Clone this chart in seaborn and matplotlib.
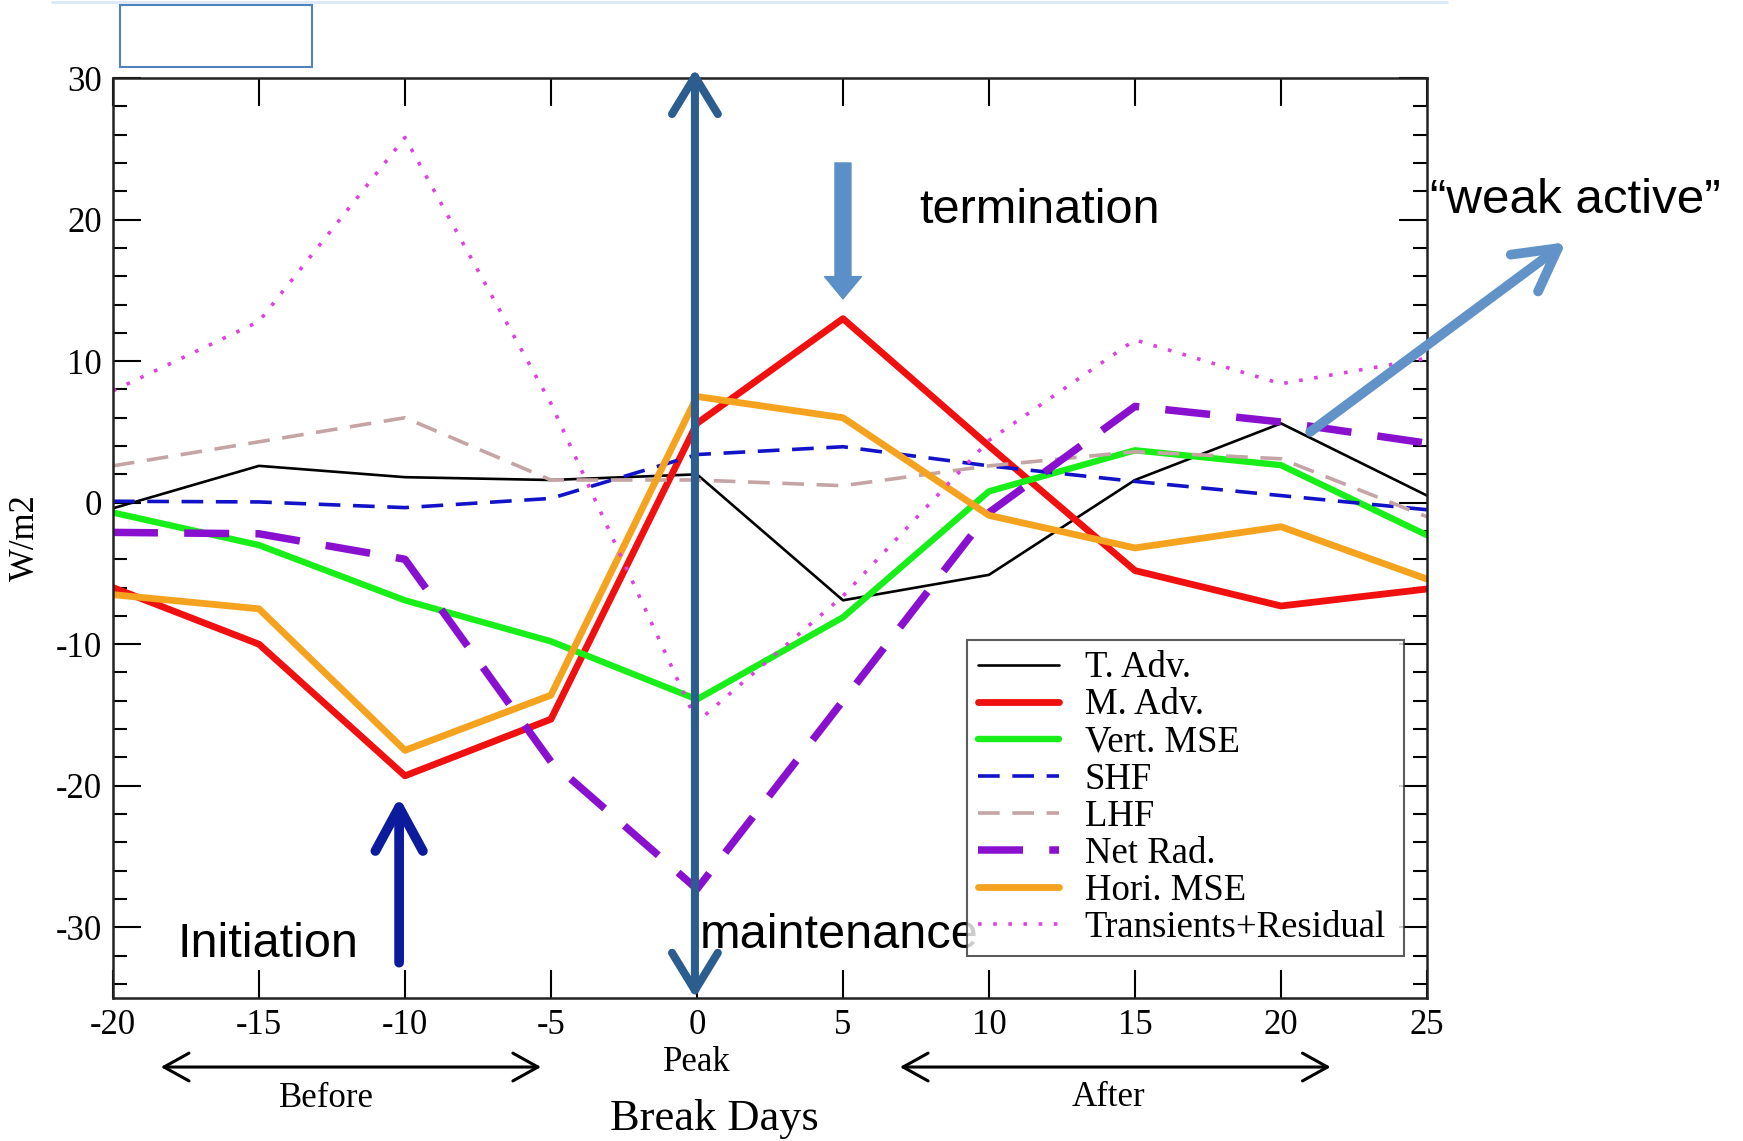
import numpy as np
import matplotlib
matplotlib.use("Agg")
import matplotlib.pyplot as plt
import seaborn as sns
from matplotlib.patches import Rectangle
from matplotlib.lines import Line2D
from matplotlib.ticker import MultipleLocator

# --- data (W/m2 vs break days) ---
days = [-20, -15, -10, -5, 0, 5, 10, 15, 20, 25]
t_adv = [-0.4, 2.6, 1.8, 1.6, 2.0, -6.9, -5.1, 1.6, 5.6, 0.5]
m_adv = [-6.0, -10.0, -19.3, -15.3, 5.6, 13.0, 4.0, -4.8, -7.3, -6.1]
vert_mse = [-0.7, -3.0, -6.9, -9.8, -13.9, -8.1, 0.8, 3.7, 2.65, -2.3]
shf = [0.1, 0.05, -0.35, 0.3, 3.4, 3.95, 2.6, 1.5, 0.5, -0.5]
lhf = [2.6, 4.3, 6.0, 1.6, 1.6, 1.2, 2.6, 3.6, 3.1, -1.0]
net_rad = [-2.1, -2.2, -4.0, -18.3, -27.3, -14.0, -0.7, 6.8, 5.7, 4.2]
hori_mse = [-6.5, -7.5, -17.5, -13.6, 7.5, 6.0, -0.9, -3.2, -1.7, -5.4]
transients = [7.9, 12.8, 25.8, 7.0, -15.5, -6.6, 4.4, 11.5, 8.4, 10.2]

yticks = [-30, -20, -10, 0, 10, 20, 30]

sns.set_style("ticks")
plt.rcParams["font.family"] = ["Liberation Serif", "DejaVu Serif"]
plt.rcParams["axes.unicode_minus"] = False
plt.rcParams["text.color"] = "black"
plt.rcParams["axes.labelcolor"] = "black"
plt.rcParams["xtick.color"] = "black"
plt.rcParams["ytick.color"] = "black"

fig = plt.figure(figsize=(17.43, 11.41), dpi=100)
ax = fig.add_axes([0.0648, 0.1253, 0.7539, 0.8063])

series = [
    ("T. Adv.", t_adv, "black", 1.9, "-"),
    ("M. Adv.", m_adv, "#f01010", 4.9, "-"),
    ("Vert. MSE", vert_mse, "#18ee18", 4.6, "-"),
    ("SHF", shf, "#1212c8", 2.6, (0, (6, 3.5))),
    ("LHF", lhf, "#c4a4a4", 2.6, (0, (6, 3.5))),
    ("Net Rad.", net_rad, "#8a10d0", 5.4, (0, (6, 3.5))),
    ("Hori. MSE", hori_mse, "#f5a31f", 4.9, "-"),
    ("Transients+Residual", transients, "#e040e0", 2.6, (0, (1, 3.2))),
]
for name, vals, col, lw, ls in series:
    sns.lineplot(x=days, y=vals, ax=ax, color=col, lw=lw, linestyle=ls,
                 label=name)

ax.set_xlim(-20, 25)
ax.set_ylim(-35, 30)
ax.set_xticks(days)
ax.set_xticklabels([str(d) for d in days])
ax.set_yticks(yticks)
ax.set_yticklabels([str(v) for v in yticks])
ax.yaxis.set_minor_locator(MultipleLocator(2))
ax.tick_params(axis="both", which="major", direction="in", length=20,
               width=1.5, top=True, right=True, labelsize=25, pad=8)
ax.tick_params(axis="y", which="minor", direction="in", length=10,
               width=1.5, left=True, right=True)
for s in ax.spines.values():
    s.set_linewidth(1.8)
    s.set_color("#222222")

ax.set_xlabel("")
ax.set_ylabel("W/m2", fontsize=25)
ax.yaxis.set_label_coords(-0.054, 0.5)

leg = ax.legend(loc="lower left", bbox_to_anchor=(0.650, 0.0457, 0.3325, 0.348),
                mode="expand", fontsize=26.5, frameon=True, fancybox=False,
                handlelength=2.2, handletextpad=0.7, labelspacing=0.07,
                borderpad=0.3, borderaxespad=0)
leg.get_frame().set_edgecolor("#333333")
leg.get_frame().set_linewidth(1.5)

# --- annotations under the axis ---
trans = ax.get_xaxis_transform()
ax.text(0, -0.0696, "Peak", transform=trans, ha="center", va="center", fontsize=25)
ax.text(-12.7, -0.109, "Before", transform=trans, ha="center", va="center", fontsize=25)
ax.text(14.1, -0.108, "After", transform=trans, ha="center", va="center", fontsize=25)
ax.text(0.6, -0.132, "Break Days", transform=trans, ha="center", va="center", fontsize=32)
arw = dict(arrowstyle="<->,head_length=0.9,head_width=0.5", color="black",
           lw=2.2, mutation_scale=20, shrinkA=0, shrinkB=0)
ax.annotate("", xy=(-18.36, -0.075), xytext=(-5.34, -0.075), xycoords=trans,
            textcoords=trans, arrowprops=arw, annotation_clip=False)
ax.annotate("", xy=(6.95, -0.075), xytext=(21.7, -0.075), xycoords=trans,
            textcoords=trans, arrowprops=arw, annotation_clip=False)

# --- phase annotations ---
sans = ["Liberation Sans", "DejaVu Sans"]
ax.annotate("", xy=(-0.07, 30.65), xytext=(-0.07, -35.0),
            arrowprops=dict(arrowstyle="<->,head_length=0.9,head_width=0.55",
                            color="#2b5d8e", lw=5.8, mutation_scale=30,
                            shrinkA=0, shrinkB=0),
            annotation_clip=False)
ax.annotate("", xy=(-10.2, -20.8), xytext=(-10.2, -32.5),
            arrowprops=dict(arrowstyle="->,head_length=1.05,head_width=0.57",
                            color="#0b1b9c", lw=7, mutation_scale=30,
                            shrinkA=0, shrinkB=0))
ax.annotate("", xy=(5.0, 14.4), xytext=(5.0, 24.0),
            arrowprops=dict(arrowstyle="simple,head_length=1.6,head_width=2.66,tail_width=1.15",
                            color="#5b8fc7", mutation_scale=10, shrinkA=0, shrinkB=0))
ax.annotate("", xy=(29.76, 18.4), xytext=(21.0, 5.0),
            arrowprops=dict(arrowstyle="->,head_length=1.0,head_width=0.55",
                            color="#6193c8", lw=7, mutation_scale=30,
                            shrinkA=0, shrinkB=0),
            annotation_clip=False)
ax.text(7.6, 19.77, "termination", family=sans, fontsize=35, va="baseline")
ax.text(25.1, 20.5, "\u201cweak active\u201d", family=sans, fontsize=35.5,
        va="baseline", clip_on=False)
ax.text(-17.8, -32.1, "Initiation", family=sans, fontsize=35, va="baseline")
ax.text(0.1, -31.5, "maintenance", family=sans, fontsize=35, va="baseline")

# --- empty box and faint line at the top ---
fig.patches.append(Rectangle((0.0688, 0.9413), 0.1102, 0.0543, transform=fig.transFigure,
                             facecolor="white", edgecolor="#4f81bd", lw=1.5))
fig.lines.append(Line2D([0.03, 0.83], [0.9985, 0.9985], transform=fig.transFigure,
                        color="#dbe8f5", lw=2))

fig.savefig("out.png", dpi=100)
